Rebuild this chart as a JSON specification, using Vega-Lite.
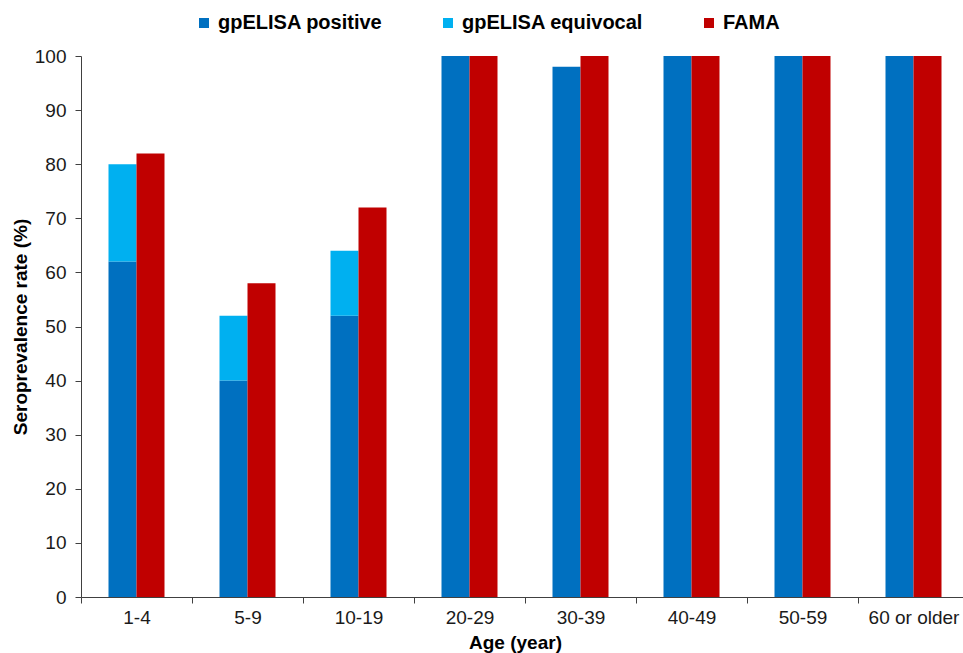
{
  "$schema": "https://vega.github.io/schema/vega-lite/v6.json",
  "autosize": "none",
  "width": 888,
  "height": 541,
  "padding": {"left": 81, "top": 56, "right": -6, "bottom": 56},
  "background": "white",
  "config": {
    "font": "Liberation Sans",
    "view": {"stroke": null}
  },
  "data": {
    "values": [
      {"age": "1-4", "group": "gpELISA", "series": "gpELISA positive", "value": 62},
      {"age": "1-4", "group": "gpELISA", "series": "gpELISA equivocal", "value": 18},
      {"age": "1-4", "group": "FAMA", "series": "FAMA", "value": 82},
      {"age": "5-9", "group": "gpELISA", "series": "gpELISA positive", "value": 40},
      {"age": "5-9", "group": "gpELISA", "series": "gpELISA equivocal", "value": 12},
      {"age": "5-9", "group": "FAMA", "series": "FAMA", "value": 58},
      {"age": "10-19", "group": "gpELISA", "series": "gpELISA positive", "value": 52},
      {"age": "10-19", "group": "gpELISA", "series": "gpELISA equivocal", "value": 12},
      {"age": "10-19", "group": "FAMA", "series": "FAMA", "value": 72},
      {"age": "20-29", "group": "gpELISA", "series": "gpELISA positive", "value": 100},
      {"age": "20-29", "group": "gpELISA", "series": "gpELISA equivocal", "value": 0},
      {"age": "20-29", "group": "FAMA", "series": "FAMA", "value": 100},
      {"age": "30-39", "group": "gpELISA", "series": "gpELISA positive", "value": 98},
      {"age": "30-39", "group": "gpELISA", "series": "gpELISA equivocal", "value": 0},
      {"age": "30-39", "group": "FAMA", "series": "FAMA", "value": 100},
      {"age": "40-49", "group": "gpELISA", "series": "gpELISA positive", "value": 100},
      {"age": "40-49", "group": "gpELISA", "series": "gpELISA equivocal", "value": 0},
      {"age": "40-49", "group": "FAMA", "series": "FAMA", "value": 100},
      {"age": "50-59", "group": "gpELISA", "series": "gpELISA positive", "value": 100},
      {"age": "50-59", "group": "gpELISA", "series": "gpELISA equivocal", "value": 0},
      {"age": "50-59", "group": "FAMA", "series": "FAMA", "value": 100},
      {"age": "60 or older", "group": "gpELISA", "series": "gpELISA positive", "value": 100},
      {"age": "60 or older", "group": "gpELISA", "series": "gpELISA equivocal", "value": 0},
      {"age": "60 or older", "group": "FAMA", "series": "FAMA", "value": 100}
    ]
  },
  "mark": {"type": "bar"},
  "encoding": {
    "x": {
      "field": "age",
      "type": "nominal",
      "sort": ["1-4", "5-9", "10-19", "20-29", "30-39", "40-49", "50-59", "60 or older"],
      "scale": {"paddingInner": 0, "paddingOuter": 0},
      "axis": {
        "title": "Age (year)",
        "titleFont": "Liberation Sans",
        "titleFontSize": 19,
        "titleFontWeight": "bold",
        "titleColor": "#000000",
        "titlePadding": 6,
        "titleX": 434,
        "labelAngle": 0,
        "labelFontSize": 19,
        "labelColor": "#1a1a1a",
        "labelPadding": 5,
        "labelOverlap": false,
        "labelBound": false,
        "tickBand": "extent",
        "tickSize": 6,
        "tickColor": "#404040",
        "domainColor": "#404040",
        "grid": false
      }
    },
    "xOffset": {
      "field": "group",
      "type": "nominal",
      "sort": ["gpELISA", "FAMA"],
      "scale": {"paddingInner": 0, "paddingOuter": 0.982}
    },
    "y": {
      "field": "value",
      "type": "quantitative",
      "stack": "zero",
      "scale": {"domain": [0, 100], "nice": false},
      "axis": {
        "title": "Seroprevalence rate (%)",
        "titleFontSize": 19,
        "titleFontWeight": "bold",
        "titleColor": "#000000",
        "titlePadding": 4,
        "values": [0, 10, 20, 30, 40, 50, 60, 70, 80, 90, 100],
        "labelFontSize": 19,
        "labelColor": "#1a1a1a",
        "labelPadding": 9,
        "tickSize": 6,
        "tickColor": "#404040",
        "domainColor": "#404040",
        "grid": false
      }
    },
    "color": {
      "field": "series",
      "type": "nominal",
      "scale": {
        "domain": ["gpELISA positive", "gpELISA equivocal", "FAMA"],
        "range": ["#0070C0", "#00B0F0", "#C00000"]
      },
      "legend": {
        "title": null,
        "orient": "none",
        "direction": "horizontal",
        "legendX": 113,
        "legendY": -43,
        "symbolType": "square",
        "symbolSize": 100,
        "symbolStrokeWidth": 0,
        "labelFontSize": 20,
        "labelFontWeight": "bold",
        "labelColor": "#000000",
        "labelOffset": 4,
        "labelLimit": 400,
        "columnPadding": 55,
        "padding": 0
      }
    },
    "order": {"field": "series", "sort": "descending"}
  }
}
